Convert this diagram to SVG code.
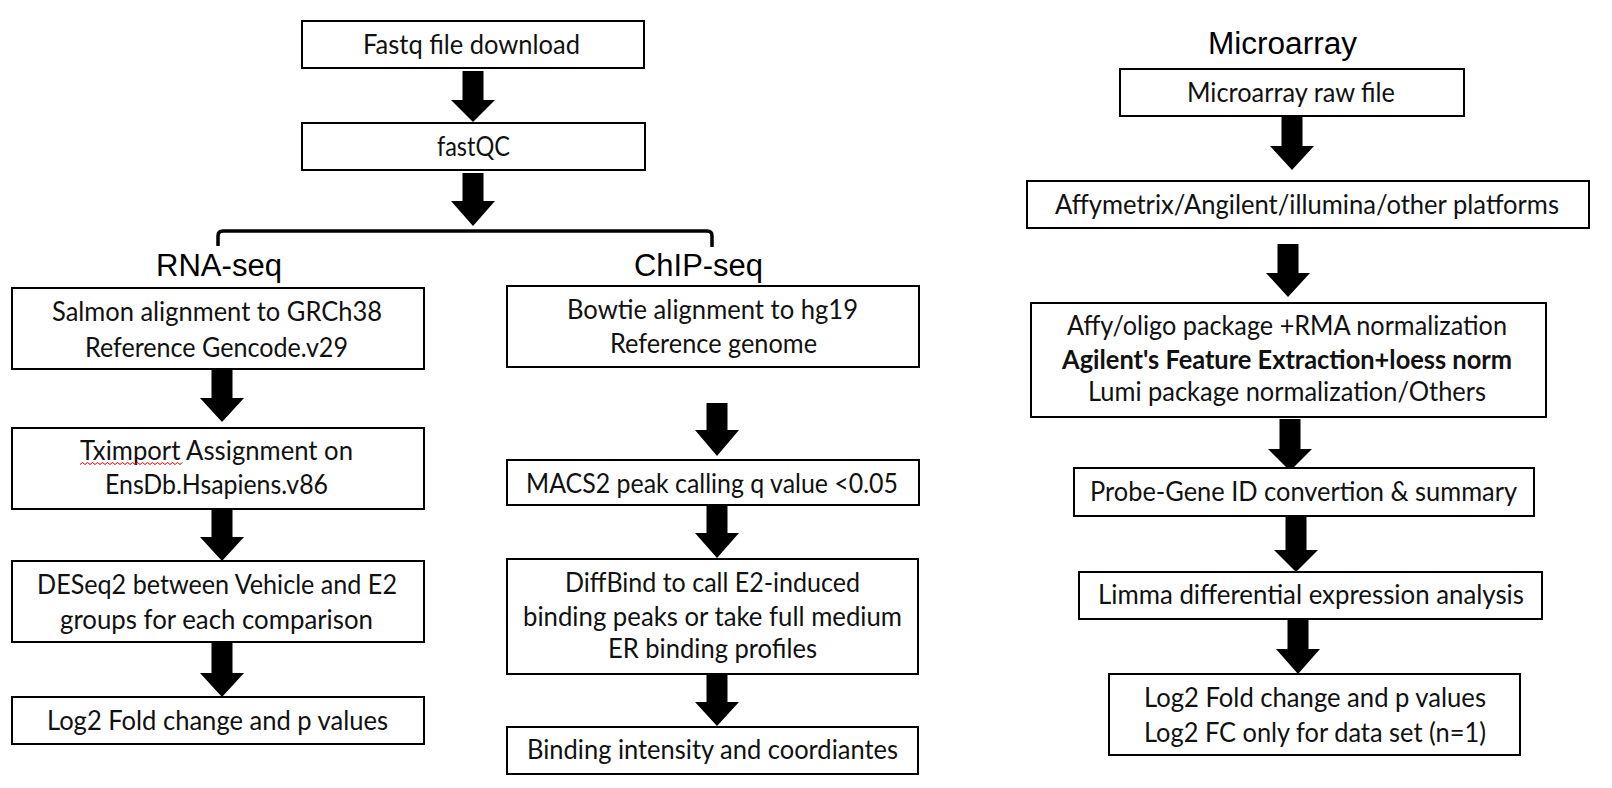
<svg xmlns="http://www.w3.org/2000/svg" width="1612" height="788" viewBox="0 0 1612 788">
<style>
.box{fill:#fff;stroke:#000;stroke-width:2}
.t{font-family:Lato,"Open Sans",sans-serif;font-size:27px;fill:#111}
.b{font-weight:700}
.h{font-family:"Liberation Sans",Arial,sans-serif;font-size:31px;fill:#000}
.arr{fill:#000}
</style>
<rect width="1612" height="788" fill="#fff"/>

<g id="title-rnaseq"><text class="h" x="156" y="276" textLength="126" lengthAdjust="spacingAndGlyphs">RNA-seq</text></g>
<g id="title-chipseq"><text class="h" x="634" y="276" textLength="129" lengthAdjust="spacingAndGlyphs">ChIP-seq</text></g>
<g id="title-microarray"><text class="h" x="1208" y="54" textLength="149" lengthAdjust="spacingAndGlyphs">Microarray</text></g>

<g id="connectors">
<path d="M218,246 L218,236 Q218,231 223,231 L707,231 Q712,231 712,236 L712,247" fill="none" stroke="#000" stroke-width="3.5"/>
<polygon class="arr" points="462.5,71 483.5,71 483.5,100 495,100 473,122 451,100 462.5,100"/>
<polygon class="arr" points="462.5,173 483.5,173 483.5,201 495,201 473,226 451,201 462.5,201"/>
<polygon class="arr" points="211.5,370 232.5,370 232.5,398 244,398 222,422 200,398 211.5,398"/>
<polygon class="arr" points="211.5,510 232.5,510 232.5,537 244,537 222,561 200,537 211.5,537"/>
<polygon class="arr" points="211.5,643 232.5,643 232.5,673 244,673 222,697 200,673 211.5,673"/>
<polygon class="arr" points="706.5,403 727.5,403 727.5,430 739,430 717,456 695,430 706.5,430"/>
<polygon class="arr" points="706.5,506 727.5,506 727.5,533 739,533 717,558 695,533 706.5,533"/>
<polygon class="arr" points="706.5,674 727.5,674 727.5,702 739,702 717,726 695,702 706.5,702"/>
<polygon class="arr" points="1281.5,117 1302.5,117 1302.5,146 1314,146 1292,170 1270,146 1281.5,146"/>
<polygon class="arr" points="1277.5,244 1298.5,244 1298.5,273 1310,273 1288,297 1266,273 1277.5,273"/>
<polygon class="arr" points="1279.5,419 1300.5,419 1300.5,449 1312,449 1290,471 1268,449 1279.5,449"/>
<polygon class="arr" points="1285.5,517 1306.5,517 1306.5,550 1318,550 1296,572 1274,550 1285.5,550"/>
<polygon class="arr" points="1287.5,620 1308.5,620 1308.5,649 1320,649 1298,674 1276,649 1287.5,649"/>
</g>

<g id="fastq">
<rect class="box" x="302" y="21" width="342" height="47"/>
<text class="t" x="363" y="54" textLength="217" lengthAdjust="spacingAndGlyphs">Fastq file download</text>
</g>
<g id="fastqc">
<rect class="box" x="302" y="123" width="343" height="47"/>
<text class="t" x="437" y="156" textLength="73" lengthAdjust="spacingAndGlyphs">fastQC</text>
</g>

<g id="salmon">
<rect class="box" x="12" y="288" width="412" height="81"/>
<text class="t" x="52" y="321" textLength="330" lengthAdjust="spacingAndGlyphs">Salmon alignment to GRCh38</text>
<text class="t" x="85" y="357" textLength="263" lengthAdjust="spacingAndGlyphs">Reference Gencode.v29</text>
</g>
<g id="tximport">
<rect class="box" x="12" y="428" width="412" height="81"/>
<text class="t" x="80" y="460" textLength="273" lengthAdjust="spacingAndGlyphs">Tximport Assignment on</text>
<path d="M80,464.5 l2.5,-2 l2.5,2 l2.5,-2 l2.5,2 l2.5,-2 l2.5,2 l2.5,-2 l2.5,2 l2.5,-2 l2.5,2 l2.5,-2 l2.5,2 l2.5,-2 l2.5,2 l2.5,-2 l2.5,2 l2.5,-2 l2.5,2 l2.5,-2 l2.5,2 l2.5,-2 l2.5,2 l2.5,-2 l2.5,2 l2.5,-2 l2.5,2 l2.5,-2 l2.5,2 l2.5,-2 l2.5,2 l2.5,-2 l2.5,2 l2.5,-2 l2.5,2 l2.5,-2 l2.5,2 l2.5,-2 l2.5,2 l2.5,-2 l2.5,2 l2.5,-2" fill="none" stroke="#e00" stroke-width="1"/>
<text class="t" x="105" y="494" textLength="223" lengthAdjust="spacingAndGlyphs">EnsDb.Hsapiens.v86</text>
</g>
<g id="deseq2">
<rect class="box" x="12" y="561" width="412" height="81"/>
<text class="t" x="37" y="594" textLength="360" lengthAdjust="spacingAndGlyphs">DESeq2 between Vehicle and E2</text>
<text class="t" x="60" y="629" textLength="313" lengthAdjust="spacingAndGlyphs">groups for each comparison</text>
</g>
<g id="log2-rna">
<rect class="box" x="12" y="697" width="412" height="47"/>
<text class="t" x="47" y="730" textLength="341" lengthAdjust="spacingAndGlyphs">Log2 Fold change and p values</text>
</g>

<g id="bowtie">
<rect class="box" x="507" y="286" width="412" height="81"/>
<text class="t" x="567" y="319" textLength="291" lengthAdjust="spacingAndGlyphs">Bowtie alignment to hg19</text>
<text class="t" x="610" y="353" textLength="207" lengthAdjust="spacingAndGlyphs">Reference genome</text>
</g>
<g id="macs2">
<rect class="box" x="507" y="460" width="412" height="45"/>
<text class="t" x="526" y="493" textLength="372" lengthAdjust="spacingAndGlyphs">MACS2 peak calling q value &lt;0.05</text>
</g>
<g id="diffbind">
<rect class="box" x="507" y="559" width="411" height="115"/>
<text class="t" x="565" y="592" textLength="295" lengthAdjust="spacingAndGlyphs">DiffBind to call E2-induced</text>
<text class="t" x="523" y="626" textLength="379" lengthAdjust="spacingAndGlyphs">binding peaks or take full medium</text>
<text class="t" x="608" y="658" textLength="209" lengthAdjust="spacingAndGlyphs">ER binding profiles</text>
</g>
<g id="binding">
<rect class="box" x="507" y="727" width="411" height="47"/>
<text class="t" x="527" y="759" textLength="371" lengthAdjust="spacingAndGlyphs">Binding intensity and coordiantes</text>
</g>

<g id="rawfile">
<rect class="box" x="1120" y="69" width="344" height="47"/>
<text class="t" x="1187" y="102" textLength="208" lengthAdjust="spacingAndGlyphs">Microarray raw file</text>
</g>
<g id="platforms">
<rect class="box" x="1027" y="181" width="562" height="47"/>
<text class="t" x="1055" y="214" textLength="504" lengthAdjust="spacingAndGlyphs">Affymetrix/Angilent/illumina/other platforms</text>
</g>
<g id="normalization">
<rect class="box" x="1031" y="303" width="515" height="114"/>
<text class="t" x="1067" y="335" textLength="440" lengthAdjust="spacingAndGlyphs">Affy/oligo package +RMA normalization</text>
<text class="t b" x="1062" y="369" textLength="450" lengthAdjust="spacingAndGlyphs">Agilent's Feature Extraction+loess norm</text>
<text class="t" x="1088" y="401" textLength="398" lengthAdjust="spacingAndGlyphs">Lumi package normalization/Others</text>
</g>
<g id="probe">
<rect class="box" x="1074" y="468" width="460" height="48"/>
<text class="t" x="1090" y="501" textLength="427" lengthAdjust="spacingAndGlyphs">Probe-Gene ID convertion &amp; summary</text>
</g>
<g id="limma">
<rect class="box" x="1079" y="572" width="463" height="47"/>
<text class="t" x="1098" y="604" textLength="426" lengthAdjust="spacingAndGlyphs">Limma differential expression analysis</text>
</g>
<g id="log2-micro">
<rect class="box" x="1109" y="674" width="411" height="81"/>
<text class="t" x="1144" y="707" textLength="342" lengthAdjust="spacingAndGlyphs">Log2 Fold change and p values</text>
<text class="t" x="1144" y="742" textLength="342" lengthAdjust="spacingAndGlyphs">Log2 FC only for data set (n=1)</text>
</g>
</svg>
